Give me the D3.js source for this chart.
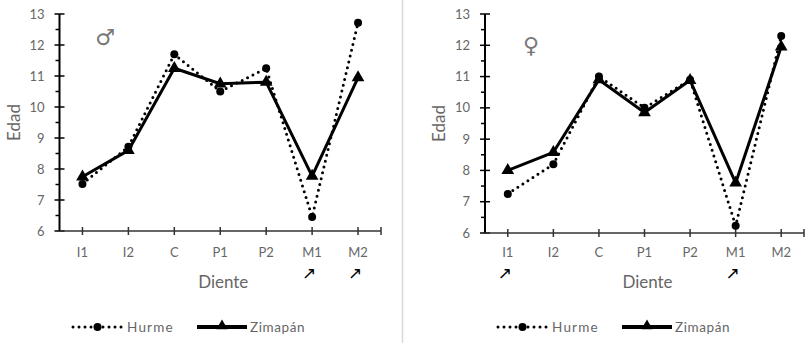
<!DOCTYPE html>
<html lang="es">
<head>
<meta charset="UTF-8">
<title>Edad por diente</title>
<script src="https://d3js.org/d3.v7.min.js"></script>
<style>
  body { margin: 0; padding: 0; background: #fff; }
  svg { font-family: Lato, "Open Sans", sans-serif; display: block; }
</style>
</head>
<body>
<svg id="chart" width="810" height="345"></svg>
<script>
// Data
const dientes = ["I1", "I2", "C", "P1", "P2", "M1", "M2"];
const yTicks = [6, 7, 8, 9, 10, 11, 12, 13];
const hurmeMasc = [7.52, 8.72, 11.7, 10.5, 11.25, 6.45, 12.72];
const zimapanMasc = [7.75, 8.6, 11.25, 10.75, 10.8, 7.77, 10.95];
const hurmeFem = [7.25, 8.2, 11.0, 10.0, 10.9, 6.23, 12.3];
const zimapanFem = [8.0, 8.58, 10.9, 9.85, 10.88, 7.6, 11.95];
const marcadosMasc = ["M1", "M2"];
const marcadosFem = ["I1", "M1"];

const svg = d3.select("#chart");
const grey = "#666";

// separator between the two panels
svg.append("line")
    .attr("x1", 402.5).attr("x2", 402.5)
    .attr("y1", 0).attr("y2", 343)
    .attr("stroke", "#d9d9d9").attr("stroke-width", 1.5);

function panel(opt) {
    const g = svg.append("g");
    const x = d3.scaleBand().domain(dientes).range([opt.left, opt.right]);
    const y = d3.scaleLinear().domain([6, 13]).range([opt.bottom, opt.top]);
    const cx = d => x(d) + x.bandwidth() / 2;

    // y axis: major ticks crossing, minor ticks at half steps on the left
    g.append("line")
        .attr("x1", opt.left).attr("x2", opt.left)
        .attr("y1", y(13)).attr("y2", y(6))
        .attr("stroke", "#000").attr("stroke-width", 2);
    g.selectAll(".ymaj").data(yTicks).join("line")
        .attr("x1", opt.left - 5).attr("x2", opt.left + 5)
        .attr("y1", d => y(d)).attr("y2", d => y(d))
        .attr("stroke", "#000").attr("stroke-width", 1.5);
    g.selectAll(".ymin").data(yTicks.slice(1).map(d => d - 0.5)).join("line")
        .attr("x1", opt.left - 4).attr("x2", opt.left)
        .attr("y1", d => y(d)).attr("y2", d => y(d))
        .attr("stroke", "#000").attr("stroke-width", 1.5);
    g.selectAll(".ylab").data(yTicks).join("text")
        .attr("x", opt.left - 15).attr("y", d => y(d))
        .attr("dy", "0.35em")
        .attr("text-anchor", "end")
        .attr("fill", grey).attr("font-size", 13)
        .text(d => d);

    // x axis
    g.append("line")
        .attr("x1", opt.left).attr("x2", opt.right)
        .attr("y1", y(6)).attr("y2", y(6))
        .attr("stroke", "#333").attr("stroke-width", 1.5);
    g.selectAll(".xtick").data(dientes).join("line")
        .attr("x1", d => cx(d)).attr("x2", d => cx(d))
        .attr("y1", y(6) - 4).attr("y2", y(6) + 4)
        .attr("stroke", "#333").attr("stroke-width", 1.5);
    g.append("line")
        .attr("x1", opt.right).attr("x2", opt.right)
        .attr("y1", y(6) - 4).attr("y2", y(6) + 4)
        .attr("stroke", "#333").attr("stroke-width", 1.5);
    g.selectAll(".xlab").data(dientes).join("text")
        .attr("x", d => cx(d)).attr("y", 257)
        .attr("text-anchor", "middle")
        .attr("fill", grey).attr("font-size", 13)
        .text(d => d);

    // arrows under the marked teeth
    g.selectAll(".arrow").data(opt.marcados).join("text")
        .attr("x", d => cx(d) - 3).attr("y", 279)
        .attr("text-anchor", "middle")
        .attr("font-family", "DejaVu Sans")
        .attr("font-size", 17)
        .attr("fill", "#000")
        .text("\u2197\uFE0E");

    // axis titles
    g.append("text")
        .attr("transform", `translate(${opt.left - 40},${(y(6) + y(13)) / 2}) rotate(-90)`)
        .attr("text-anchor", "middle")
        .attr("fill", grey).attr("font-size", 17)
        .text("Edad");
    g.append("text")
        .attr("x", (opt.left + opt.right) / 2 + 3).attr("y", 288)
        .attr("text-anchor", "middle")
        .attr("fill", grey).attr("font-size", 17)
        .text("Diente");

    // sex symbol
    g.append("text")
        .attr("x", opt.symX).attr("y", opt.symY)
        .attr("text-anchor", "middle")
        .attr("font-family", "DejaVu Sans")
        .attr("font-size", 22)
        .attr("fill", "#777")
        .text(opt.symbol + "\uFE0E");

    const line = d3.line().x((d, i) => cx(dientes[i])).y(d => y(d));

    // Hurme: dotted line with circles
    g.append("path").datum(opt.hurme)
        .attr("d", line)
        .attr("fill", "none").attr("stroke", "#000")
        .attr("stroke-width", 3).attr("stroke-linecap", "round")
        .attr("stroke-dasharray", "0 6");
    g.selectAll(".hpt").data(opt.hurme).join("circle")
        .attr("cx", (d, i) => cx(dientes[i])).attr("cy", d => y(d))
        .attr("r", 4).attr("fill", "#000");

    // Zimapán: solid line with triangles
    g.append("path").datum(opt.zimapan)
        .attr("d", line)
        .attr("fill", "none").attr("stroke", "#000")
        .attr("stroke-width", 3).attr("stroke-linejoin", "round");
    const tri = d3.symbol().type(d3.symbolTriangle).size(70);
    g.selectAll(".zpt").data(opt.zimapan).join("path")
        .attr("d", tri)
        .attr("transform", (d, i) => `translate(${cx(dientes[i])},${y(d)})`)
        .attr("fill", "#000");

    // legend
    const lg = g.append("g").attr("transform", `translate(${opt.legendX},327)`);
    lg.append("line").attr("x1", 0).attr("x2", 49).attr("y1", 0).attr("y2", 0)
        .attr("stroke", "#000").attr("stroke-width", 3)
        .attr("stroke-linecap", "round").attr("stroke-dasharray", "0 6");
    lg.append("circle").attr("cx", 24.5).attr("cy", 0).attr("r", 4).attr("fill", "#000");
    lg.append("text").attr("x", 54).attr("y", 0).attr("dy", "0.35em")
        .attr("fill", grey).attr("font-size", 13.5).attr("letter-spacing", 1.2)
        .text("Hurme");
    lg.append("line").attr("x1", 124).attr("x2", 174).attr("y1", 0).attr("y2", 0)
        .attr("stroke", "#000").attr("stroke-width", 4);
    lg.append("path").attr("d", d3.symbol().type(d3.symbolTriangle).size(55))
        .attr("transform", "translate(149,-1)").attr("fill", "#000");
    lg.append("text").attr("x", 177).attr("y", 0).attr("dy", "0.35em")
        .attr("fill", grey).attr("font-size", 13.5).attr("letter-spacing", 0.6)
        .text("Zimapán");
}

panel({
    left: 59.5, right: 381, top: 14, bottom: 231,
    hurme: hurmeMasc, zimapan: zimapanMasc, marcados: marcadosMasc,
    symbol: "\u2642", symX: 105, symY: 45, legendX: 73
});
panel({
    left: 485, right: 804, top: 14, bottom: 233,
    hurme: hurmeFem, zimapan: zimapanFem, marcados: marcadosFem,
    symbol: "\u2640", symX: 531, symY: 53, legendX: 498
});
</script>
</body>
</html>
